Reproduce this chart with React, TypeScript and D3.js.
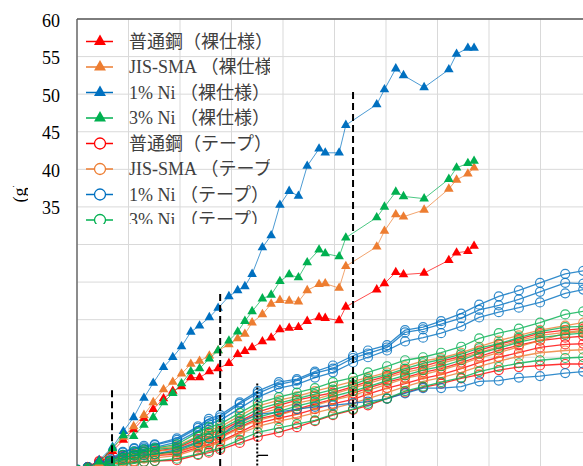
import React from "react";
import * as d3 from "d3";

// ---- data ----
const yTicksShown = [35, 40, 45, 50, 55, 60];
const legendLabels = [
  "普通鋼（裸仕様）",
  "JIS-SMA （裸仕様）",
  "1% Ni （裸仕様）",
  "3% Ni （裸仕様）",
  "普通鋼（テープ）",
  "JIS-SMA （テープ）",
  "1% Ni （テープ）",
  "3% Ni （テープ）",
];
const seriesColors = ["#ff0000", "#ed7d31", "#0070c0", "#00b050"];

const bareX = [0, 0.21, 0.43, 0.69, 0.9, 1.1, 1.3, 1.48, 1.68, 1.86, 2.03, 2.21, 2.38, 2.57, 2.74, 2.95, 3.12, 3.26, 3.4, 3.6, 3.77, 3.94, 4.12, 4.3, 4.47, 4.7, 4.82, 5.09, 5.22, 5.82, 5.97, 6.19, 6.34, 6.74, 7.22, 7.37, 7.59, 7.71];
const bareRed = [0, 0.4, 1.3, 2.5, 4.0, 5.4, 6.9, 8.1, 9.5, 10.5, 11.1, 12.3, 12.3, 13.1, 13.5, 14.2, 15.4, 15.8, 16.3, 17.1, 17.6, 18.7, 18.9, 19.0, 19.8, 20.3, 20.2, 19.9, 21.7, 24.0, 24.8, 26.3, 26.0, 26.2, 27.9, 28.9, 29.1, 29.8];
const bareOrange = [0, 0.3, 0.9, 2.8, 4.4, 5.8, 7.3, 9.0, 10.7, 11.7, 12.8, 14.1, 14.5, 15.2, 15.9, 16.7, 17.5, 18.1, 19.6, 20.7, 22.1, 22.6, 22.5, 22.4, 23.9, 24.7, 24.8, 24.2, 27.1, 29.7, 31.8, 34.0, 33.7, 34.6, 37.4, 38.6, 39.4, 40.2];
const bareBlue = [0, 0.3, 1.3, 3.05, 5.16, 7.0, 9.58, 11.57, 13.67, 15.0, 16.42, 18.37, 19.2, 20.3, 21.55, 23.1, 23.9, 24.43, 26.06, 29.6, 31.2, 35.26, 37.1, 36.46, 40.44, 42.73, 42.2, 42.2, 45.88, 48.63, 50.62, 53.4, 52.5, 50.9, 53.27, 55.34, 56.14, 56.14];
const bareGreen = [0, 0.3, 1.1, 2.9, 4.6, 4.5, 6.0, 7.0, 9.0, 10.2, 11.5, 13.1, 13.5, 14.8, 15.9, 17.2, 18.4, 19.8, 21.1, 22.8, 23.3, 25.1, 26.0, 25.6, 27.6, 29.3, 28.8, 28.4, 30.9, 33.6, 35.0, 37.0, 36.4, 36.1, 38.7, 40.2, 40.8, 41.1];

const tapeX = [0, 0.21, 0.43, 0.64, 0.89, 1.11, 1.3, 1.51, 1.94, 2.35, 2.56, 2.78, 3.16, 3.51, 3.92, 4.27, 4.62, 4.97, 5.36, 5.65, 6.02, 6.37, 6.72, 7.07, 7.46, 7.81, 8.19, 8.58, 8.99, 9.48, 9.83, 10.16];
const tapeRed = [
  [0, 0.4, 1.1, 1.6, 1.9, 2.1, 2.4, 2.5, 2.9, 4.1, 4.8, 5.2, 6.5, 7.7, 8.6, 9.3, 9.8, 10.3, 11.1, 11.8, 12.5, 13.3, 13.8, 14.5, 15.1, 15.9, 16.7, 17.4, 18.2, 18.6, 18.8, 19.1],
  [0, 0.4, 1.2, 1.7, 1.5, 1.6, 1.7, 1.9, 2.1, 3.0, 3.4, 3.8, 5.0, 6.2, 6.9, 7.4, 8.1, 8.8, 9.4, 10.1, 10.9, 11.5, 12.2, 12.7, 13.5, 14.3, 15.0, 15.6, 16.3, 16.7, 16.8, 17.1],
  [0, 0.3, 0.7, 0.9, 0.9, 1.1, 1.1, 1.2, 1.3, 2.0, 2.3, 2.7, 3.6, 4.4, 5.0, 5.7, 6.5, 7.3, 8.0, 8.6, 9.5, 10.3, 11.0, 11.5, 12.2, 12.7, 13.3, 13.7, 13.9, 14.1, 14.1, 14.3],
  [0, 0.3, 0.9, 1.3, 1.7, 1.9, 2.0, 2.1, 2.4, 3.3, 3.8, 4.4, 5.7, 6.8, 7.4, 8.1, 8.8, 9.4, 10.2, 10.9, 11.7, 12.3, 13.0, 13.5, 14.3, 15.1, 15.9, 16.6, 17.2, 17.6, 17.8, 18.0],
];
const tapeOrange = [
  [0, 0.3, 0.8, 1.1, 1.7, 2.1, 2.5, 2.8, 3.2, 4.5, 5.3, 5.7, 7.2, 8.5, 9.3, 9.8, 10.5, 11.1, 11.8, 12.3, 13.0, 13.8, 14.5, 14.9, 15.6, 16.4, 17.2, 17.9, 18.6, 19.2, 19.6, 19.9],
  [0, 0.3, 0.7, 0.9, 1.5, 1.9, 2.1, 2.4, 2.8, 3.8, 4.5, 5.0, 6.2, 7.4, 8.2, 8.9, 9.4, 10.1, 10.9, 11.5, 12.3, 13.0, 13.5, 14.2, 14.9, 15.6, 16.4, 17.2, 17.9, 18.3, 18.6, 18.8],
  [0, 0.1, 0.4, 0.7, 1.1, 1.2, 1.5, 1.6, 1.9, 2.8, 3.2, 3.6, 4.8, 5.8, 6.5, 7.0, 7.6, 8.2, 8.9, 9.5, 10.3, 11.1, 11.8, 12.3, 13.0, 13.8, 14.5, 15.1, 15.6, 15.9, 16.0, 16.3],
  [0, 0.1, 0.4, 0.7, 1.2, 1.5, 1.6, 1.9, 2.3, 3.2, 3.7, 4.2, 5.6, 6.6, 7.3, 8.0, 8.6, 9.3, 9.9, 10.6, 11.4, 12.2, 12.7, 13.3, 14.1, 14.9, 15.6, 16.4, 17.2, 18.2, 18.4, 18.6],
];
const tapeBlue = [
  [0.1, 0.4, 0.9, 1.5, 2.4, 2.9, 3.2, 3.4, 4.2, 5.8, 6.8, 7.3, 9.0, 10.5, 11.7, 12.1, 13.1, 13.9, 15.2, 15.9, 16.6, 18.6, 19.0, 19.8, 20.8, 22.0, 23.1, 23.9, 24.9, 26.1, 26.5, 27.1],
  [0, 0.4, 0.8, 1.3, 2.3, 2.8, 3.0, 3.3, 4.0, 5.6, 6.5, 7.0, 8.8, 10.2, 11.4, 11.9, 12.9, 13.5, 14.9, 15.5, 16.3, 18.3, 18.7, 19.4, 20.2, 21.3, 21.9, 22.7, 23.7, 24.9, 24.8, 25.2],
  [0, 0.3, 0.7, 1.2, 2.0, 2.5, 2.8, 3.0, 3.7, 5.2, 6.1, 6.6, 8.2, 9.7, 10.9, 11.4, 12.3, 13.0, 14.3, 15.0, 15.9, 17.1, 17.6, 18.2, 19.1, 20.3, 21.0, 21.6, 22.3, 23.5, 24.0, 24.3],
  [0, 0.3, 0.5, 0.9, 1.6, 1.9, 2.0, 2.1, 2.7, 3.7, 4.2, 4.6, 6.4, 7.4, 7.7, 8.1, 8.4, 8.6, 8.9, 9.1, 9.5, 10.2, 10.9, 10.9, 11.1, 11.8, 11.9, 12.3, 12.5, 12.9, 13.1, 13.4],
];
const tapeGreen = [
  [0, 0.3, 0.7, 1.2, 2.0, 2.4, 2.7, 2.9, 3.4, 5.0, 5.7, 6.1, 7.6, 8.9, 9.7, 10.3, 10.9, 11.7, 12.3, 13.0, 13.8, 14.6, 15.0, 15.6, 16.4, 17.5, 18.2, 18.8, 19.6, 20.7, 21.1, 21.3],
  [0, 0.1, 0.5, 1.1, 1.6, 2.0, 2.4, 2.7, 3.0, 4.4, 5.0, 5.4, 6.8, 8.1, 8.9, 9.5, 10.1, 10.7, 11.4, 12.1, 12.7, 13.5, 14.2, 14.7, 15.4, 16.2, 16.8, 17.6, 18.4, 19.0, 19.1, 19.5],
  [0, 0.1, 0.5, 0.8, 1.3, 1.6, 1.9, 2.1, 2.5, 3.6, 4.2, 4.6, 6.0, 7.0, 7.8, 8.5, 9.1, 9.8, 10.5, 11.1, 11.9, 12.6, 13.3, 13.8, 14.6, 15.5, 16.2, 17.0, 17.6, 18.0, 18.2, 18.4],
  [0, 0.1, 0.3, 0.5, 0.8, 0.9, 1.1, 1.2, 1.5, 2.1, 2.5, 2.9, 4.0, 5.0, 5.6, 6.1, 6.6, 7.4, 8.1, 8.8, 9.5, 10.5, 11.1, 11.7, 12.3, 13.1, 13.7, 14.2, 14.6, 14.9, 15.0, 15.2],
];

// reference marks (dashed verticals: x, top value)
const dashedX = [0.68, 2.78, 5.36];
const dashedTop = [10.6, 23.4, 50.3];
const dottedX = [3.5];
const dottedTop = [11.5];
const bracketY = [1.95];
const bracketX2 = [3.71];

export default function App() {
  const W = 583, H = 466;
  const x = d3.scaleLinear().domain([0, 10]).range([77, 592]);
  const y = d3.scaleLinear().domain([0, 60]).range([470, 19]);
  const mkPath = (xs: number[], ys: number[]) =>
    d3.line<[number, number]>().x((d) => x(d[0])).y((d) => y(d[1]))(xs.map((v, i) => [v, ys[i]]) as [number, number][]) || "";
  const tri = d3.symbol().type(d3.symbolTriangle).size(40)() || "";
  const triLeg = d3.symbol().type(d3.symbolTriangle).size(62)() || "";
  const font = "'Liberation Serif', 'Times New Roman', 'Noto Sans CJK JP', serif";

  const tapeGroups = [tapeRed, tapeOrange, tapeBlue, tapeGreen];
  const bareGroups = [bareRed, bareOrange, bareBlue, bareGreen];

  const xGrid = d3.range(0, 11);
  const yGrid = d3.range(0, 65, 5);

  return (
    <div style={{ position: "absolute", left: 0, top: 0 }}>
      <svg width={W} height={H} style={{ display: "block", background: "#fff" }}>
        <defs>
          <clipPath id="plot">
            <rect x={77} y={19} width={W - 77} height={H - 19} />
          </clipPath>
          <clipPath id="leg">
            <rect x={77} y={19} width={193} height={205} />
          </clipPath>
          <clipPath id="ytitle">
            <rect x={12} y={186} width={16} height={19} />
          </clipPath>
        </defs>
        {/* grid */}
        <g stroke="#d9d9d9" strokeWidth={1}>
          {xGrid.map((v) => (
            <line key={"gx" + v} x1={x(v)} x2={x(v)} y1={19} y2={H} />
          ))}
          {yGrid.map((v) => (
            <line key={"gy" + v} x1={77} x2={W} y1={y(v)} y2={y(v)} />
          ))}
        </g>
        {/* axes frame */}
        <line x1={77} x2={W} y1={19} y2={19} stroke="#595959" strokeWidth={1.3} />
        <line x1={77} x2={77} y1={19} y2={H} stroke="#595959" strokeWidth={1.3} />
        {/* y tick labels */}
        {yTicksShown.map((v) => (
          <text key={"yl" + v} x={60} y={y(v)} dy="0.42em" textAnchor="end" fontFamily={font} fontSize={18} fill="#000">
            {v}
          </text>
        ))}
        {/* y title fragment */}
        <g clipPath="url(#ytitle)">
          <text transform={`translate(26,192) rotate(-90)`} textAnchor="middle" fontFamily={font} fontSize={18} fill="#000">
            (g)
          </text>
        </g>
        <g clipPath="url(#plot)">
          {/* tape series */}
          {tapeGroups.map((grp, ci) =>
            grp.map((ys, li) => (
              <g key={`t${ci}-${li}`} opacity={0.8}>
                <path d={mkPath(tapeX, ys)} fill="none" stroke={seriesColors[ci]} strokeWidth={1.3} />
                {ys.map((v, i) => (
                  <circle key={i} cx={x(tapeX[i])} cy={y(v)} r={4.5} fill="none" stroke={seriesColors[ci]} strokeWidth={1.2} />
                ))}
              </g>
            ))
          )}
          {/* bare series */}
          {bareGroups.map((ys, ci) => (
            <g key={`b${ci}`}>
              <path d={mkPath(bareX, ys)} fill="none" stroke={seriesColors[ci]} strokeWidth={1} strokeOpacity={0.7} />
              {ys.map((v, i) => (
                <path key={i} d={tri} transform={`translate(${x(bareX[i])},${y(v)})`} fill={seriesColors[ci]} />
              ))}
            </g>
          ))}
          {/* reference lines */}
          {dashedX.map((v, i) => (
            <line key={"d" + i} x1={x(v)} x2={x(v)} y1={y(dashedTop[i])} y2={H} stroke="#000" strokeWidth={2} strokeDasharray="7,4" />
          ))}
          {dottedX.map((v, i) => (
            <g key={"o" + i}>
              <line x1={x(v)} x2={x(v)} y1={y(dottedTop[i])} y2={H} stroke="#000" strokeWidth={2} strokeDasharray="2,2" />
              <line x1={x(v)} x2={x(bracketX2[i])} y1={y(bracketY[i])} y2={y(bracketY[i])} stroke="#000" strokeWidth={1.3} />
            </g>
          ))}
        </g>
        {/* legend */}
        <g clipPath="url(#leg)">
          {legendLabels.map((lab, i) => {
            const cy = 41.5 + i * 25.5;
            const c = seriesColors[i % 4];
            return (
              <g key={"lg" + i}>
                <line x1={86} x2={113} y1={cy} y2={cy} stroke={c} strokeWidth={1.5} />
                {i < 4 ? (
                  <path d={triLeg} transform={`translate(100,${cy})`} fill={c} />
                ) : (
                  <circle cx={100} cy={cy} r={5.5} fill="#fff" stroke={c} strokeWidth={1.3} />
                )}
                <text x={129} y={cy} dy="0.36em" fontFamily={font} fontSize={18} fill="#404040">
                  {lab}
                </text>
              </g>
            );
          })}
        </g>
      </svg>
    </div>
  );
}
